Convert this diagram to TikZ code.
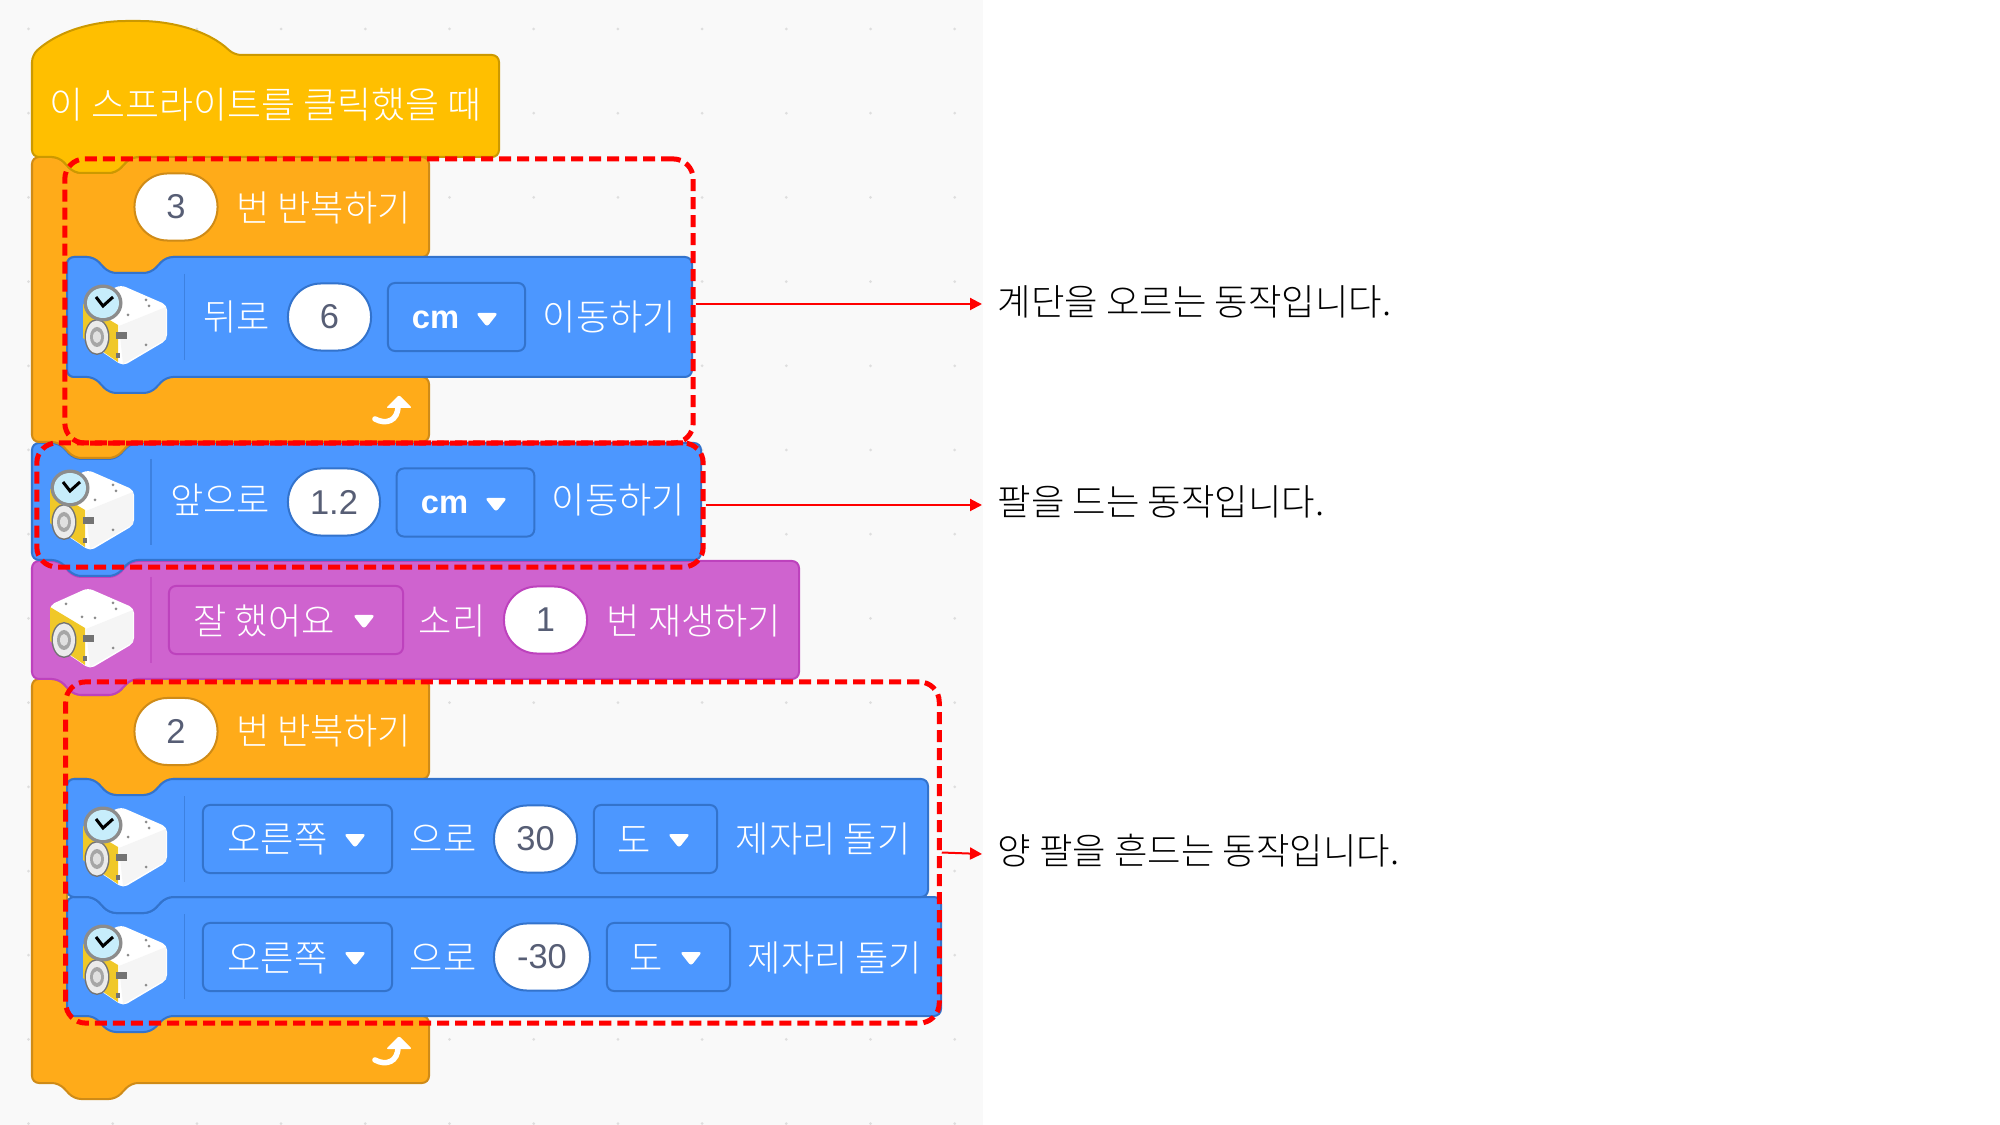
\documentclass[tikz,border=0pt]{standalone}
\usepackage{fontspec}
\usetikzlibrary{arrows.meta}
\setmainfont{Noto Sans CJK KR Light}
\newfontfamily\numfont{Liberation Sans}
\definecolor{hatfill}{HTML}{FFBF00}
\definecolor{hatline}{HTML}{CC9900}
\definecolor{loopfill}{HTML}{FFAB19}
\definecolor{loopline}{HTML}{CF8B17}
\definecolor{movefill}{HTML}{4C97FF}
\definecolor{moveline}{HTML}{3373CC}
\definecolor{soundfill}{HTML}{CF63CF}
\definecolor{soundline}{HTML}{BD42BD}
\definecolor{numtext}{HTML}{575E75}
\definecolor{cubeyellow}{HTML}{F0C828}
\tikzset{
  stack/.style={fill=#1fill,draw=#1line,line width=0.02cm,rounded corners=0.07cm},
  txt/.style={text=white,font=\fontsize{10.3}{12}\selectfont,inner sep=0pt},
  note/.style={text=black,font=\fontsize{10.35}{12}\selectfont,inner sep=0pt,anchor=west},
  numfield/.style={fill=white,draw=#1line,line width=0.02cm,rounded corners=0.33cm,
    minimum height=0.67cm,inner sep=0pt,text=numtext,font=\numfont\fontsize{9.8}{11}\selectfont},
  dropfield/.style={fill=#1fill,draw=#1line,line width=0.02cm,rounded corners=0.07cm,
    minimum height=0.68cm,inner sep=0pt},
  redbox/.style={draw=red,line width=0.05cm,dash pattern=on 0.12cm off 0.06cm,rounded corners=0.2cm,inner sep=0pt},
  redarrow/.style={draw=red,line width=0.02cm,-{Triangle[length=0.12cm,width=0.12cm]}},
  robotcube/.pic={
    \fill[white,rounded corners=0.05cm] (38,0) -- (84,20) -- (84,55) -- (40,81) -- (0,54) -- (0,17) -- cycle;
    \fill[black!4] (36,41) -- (83,22) -- (83,54) -- (40,79) -- cycle;
    \fill[cubeyellow] (0,19) -- (35,40) -- (35,77) -- (0,53) -- cycle;
    \fill[black!55] (14,52) ellipse (12.5 and 18);
    \fill[black!8] (14,52) ellipse (11 and 16.5);
    \fill[black!35] (14,52) ellipse (7 and 10);
    \fill[black!12] (14,52) ellipse (4 and 6);
    \fill[black!55] (33,47) rectangle (44,54);
    \fill[black!55] (33,68) rectangle (37,73);
    \foreach \dx/\dy in {16/16,63/15,32/29,45/30,66/21,63/60} {
    \fill[black!45] (\dx,\dy) circle (1.5);
    };
  },
  robotclock/.pic={
    \fill[black!45] (20,18) ellipse (19.5 and 18.5);
    \fill[cyan!22!white] (20,18) ellipse (16 and 15);
    \draw[black,line width=0.03cm] (13,12) -- (20,21) -- (30,12);
  },
  loopback/.pic={
    \draw[white,line width=0.055cm,line cap=round] (3,24) .. controls (14,30) and (26,26) .. (26,11);
    \fill[white,rounded corners=0.02cm] (27,0) -- (40,13) -- (14,13) -- cycle;
  }
}
% one stacked block: left, top, right, bottom
\newcommand{\stackpath}[4]{(#1,#2) -- (#1+27,#2) -- (#1+42,#2+16) -- (#1+84,#2+16) -- (#1+99,#2)
  -- (#3,#2) -- (#3,#4) -- (#1+99,#4) -- (#1+84,#4+16) -- (#1+42,#4+16) -- (#1+27,#4) -- (#1,#4) -- cycle}
% the c shaped block: top, arm bottom, lower arm top, bottom
\newcommand{\looppath}[4]{(32,#1) -- (59,#1) -- (74,#1+16) -- (116,#1+16) -- (131,#1) -- (429,#1) -- (429,#2)
  -- (166,#2) -- (151,#2+16) -- (109,#2+16) -- (94,#2) -- (67,#2) -- (67,#3) -- (429,#3) -- (429,#4)
  -- (131,#4) -- (116,#4+16) -- (74,#4+16) -- (59,#4) -- (32,#4) -- cycle}
\begin{document}
\begin{tikzpicture}[x=0.01cm,y=-0.01cm]
\useasboundingbox (0,0) rectangle (2000,1125);
\fill[white] (0,0) rectangle (2000,1125);
\fill[black!2.5] (0,0) rectangle (983,1125);
\foreach \i in {0,...,11} {
\foreach \j in {0,...,13} {
\fill[black!13] (28.5+84.2*\i,29+84.2*\j) circle (1.5);
};
};

% blocks, lowest first
\draw[stack=loop] \looppath{679}{779}{1016}{1083};
\draw[stack=move] \stackpath{67}{897}{941}{1016};
\draw[stack=move] \stackpath{67}{779}{928}{897};
\draw[stack=sound] \stackpath{32}{561}{799}{679};
\draw[stack=move] \stackpath{32}{443}{701}{560};
\draw[stack=loop] \looppath{157}{257}{377}{442};
\draw[stack=move] \stackpath{67}{257}{692}{377};
\draw[stack=hat] (32,55) .. controls (62,28) and (100,21) .. (133,21) .. controls (170,21) and (208,30) .. (234,55)
  -- (499,55) -- (499,157) -- (131,157) -- (116,173) -- (74,173) -- (59,157) -- (32,157) -- cycle;

% icons
\foreach \x/\y in {83/285,50/470,50/588,83/807,83/925} {
\pic at (\x,\y) {robotcube};
};
\foreach \x/\y in {83/285,50/470,83/807,83/925} {
\pic at (\x,\y) {robotclock};
};
\foreach \x/\a/\b/\c in {184.5/274/360/moveline,151/459/545/moveline,151/577/663/soundline,184.5/796/882/moveline,184.5/914/999/moveline} {
\draw[\c,opacity=0.6,line width=0.015cm] (\x,\a) -- (\x,\b);
};
\pic at (372,395) {loopback};
\pic at (372,1036) {loopback};

% fields
\foreach \nm/\x/\y/\w/\c/\t in {cnta/176/207/0.83/loop/3,dist/329.5/317/0.83/move/6,lift/334/502/0.92/move/1.2,
  rep/545.5/620/0.83/sound/1,cntb/176/731.5/0.83/loop/2,turna/535.5/839/0.83/move/30,turnb/542/957/0.96/move/-30} {
\node[numfield=\c,minimum width=\w cm] (\nm) at (\x,\y) {\t};
};
\foreach \nm/\x/\y/\w/\c in {dropa/456.5/317/1.37/move,dropb/465.5/502.5/1.375/move,dropc/286/620/2.34/sound,
  dropd/297.5/839/1.89/move,drope/655.5/839/1.23/move,dropf/297.5/957/1.89/move,dropg/668.5/957/1.23/move} {
\node[dropfield=\c,minimum width=\w cm] (\nm) at (\x,\y) {};
};
\foreach \x/\y in {476/313,485/498,353/615,344/834,668/834,344/952,680/952} {
\fill[white,rounded corners=0.03cm] (\x,\y) -- (\x+22,\y) -- (\x+11,\y+14) -- cycle;
};

% texts
\foreach \nm/\x/\y/\t in {repa/323.5/208/번 반복하기,back/236.5/317/뒤로,
  movea/609.5/317/이동하기,fwd/220/500/앞으로,moveb/618.5/500/이동하기,good/264/621/잘 했어요,snd/452/621/소리,
  play/694/621/번 재생하기,repb/323.5/731/번 반복하기,right/277.5/840/오른쪽,dira/443/839/으로,deg/634.5/840/도,
  spina/823/839/제자리 돌기,rightb/277.5/958.5/오른쪽,dirb/443/958/으로,degb/646.5/958.5/도,spinb/835/958/제자리 돌기} {
\node[txt] (\nm) at (\x,\y) {\t};
};
\node[txt,font=\fontsize{10.5}{12}\selectfont] (start) at (265.5,105) {이 스프라이트를 클릭했을 때};
\node[txt,font=\numfont\bfseries\fontsize{9.3}{11}\selectfont] (unita) at (435.5,320) {cm};
\node[txt,font=\numfont\bfseries\fontsize{9.3}{11}\selectfont] (unitb) at (444.5,505) {cm};

% notes and marks
\node[note] (stairs) at (997,302) {계단을 오르는 동작입니다.};
\node[note] (arm) at (997,502) {팔을 드는 동작입니다.};
\node[note] (wave) at (997,851) {양 팔을 흔드는 동작입니다.};
\node[redbox,minimum width=6.28cm,minimum height=2.84cm] (stairbox) at (379,301) {};
\node[redbox,minimum width=6.66cm,minimum height=1.24cm] (armbox) at (370,505) {};
\node[redbox,minimum width=8.73cm,minimum height=3.41cm] (wavebox) at (502.5,852.5) {};
\coordinate (stairtip) at (982,304);
\coordinate (armtip) at (982,505);
\coordinate (wavetip) at (982,854);
\draw[redarrow] (stairbox.east |- stairtip) -- (stairtip);
\draw[redarrow] (armbox.east |- armtip) -- (armtip);
\draw[redarrow] (wavebox.east) -- (wavetip);
\end{tikzpicture}
\end{document}
